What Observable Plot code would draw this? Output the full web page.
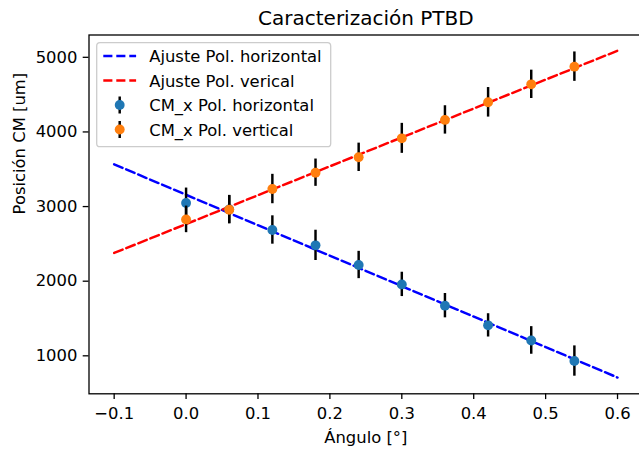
<!DOCTYPE html>
<html><head><meta charset="utf-8">
<script src="https://cdn.jsdelivr.net/npm/d3@7"></script>
<script src="https://cdn.jsdelivr.net/npm/@observablehq/plot@0.6"></script>
<style>html,body{margin:0;padding:0;background:#fff;overflow:hidden}</style>
</head><body><div id="chart"></div>
<script>
const titleText = "Caracterización PTBD";
const xLabel = "Ángulo [°]";
const yLabel = "Posición CM [um]";
const angles = [0, 0.06, 0.12, 0.18, 0.24, 0.30, 0.36, 0.42, 0.48, 0.54];
const posHorizontal = [3048, 2960, 2686, 2480, 2217, 1957, 1672, 1408, 1206, 930];
const errHorizontal = [200, 190, 190, 203, 183, 163, 163, 156, 185, 203];
const posVertical = [2828, 2958, 3235, 3454, 3660, 3914, 4161, 4397, 4638, 4875];
const errVertical = [178, 188, 197, 183, 190, 201, 190, 198, 190, 197];
const fitAngles = [-0.1, 0.6];
const fitHorizontal = [3566, 709];
const fitVertical = [2378, 5088];
const xTicks = [-0.1, 0, 0.1, 0.2, 0.3, 0.4, 0.5, 0.6];
const yTicks = [1000, 2000, 3000, 4000, 5000];
const legendLabels = ["Ajuste Pol. horizontal", "Ajuste Pol. verical", "CM_x Pol. horizontal", "CM_x Pol. vertical"];

const C0 = "#1f77b4", C1 = "#ff7f0e";
const FS = 16.4, LW = 2.46, DASH = "9.1,3.9";
const hData = angles.map((a, i) => ({x: a, y: posHorizontal[i], e: errHorizontal[i]}));
const vData = angles.map((a, i) => ({x: a, y: posVertical[i], e: errVertical[i]}));
const fitH = fitAngles.map((a, i) => ({x: a, y: fitHorizontal[i]}));
const fitV = fitAngles.map((a, i) => ({x: a, y: fitVertical[i]}));
const fmtX = d => (d < 0 ? "\u2212" : "") + Math.abs(d).toFixed(1);

const plot = Plot.plot({
  width: 639, height: 453,
  marginLeft: 88.5, marginRight: -3.2, marginTop: 34.5, marginBottom: 59.7,
  x: {domain: [-0.135, 0.635]},
  y: {domain: [491, 5299]},
  style: {fontFamily: "DejaVu Sans", fontSize: FS + "px", color: "black", background: "white", overflow: "hidden"},
  marks: [
    Plot.line(fitH, {x: "x", y: "y", stroke: "#0000ff", strokeWidth: LW, strokeDasharray: DASH}),
    Plot.line(fitV, {x: "x", y: "y", stroke: "#ff0000", strokeWidth: LW, strokeDasharray: DASH}),
    Plot.ruleX(hData, {x: "x", y1: d => d.y - d.e, y2: d => d.y + d.e, stroke: "black", strokeWidth: LW}),
    Plot.dot(hData, {x: "x", y: "y", r: 4.95, fill: C0}),
    Plot.ruleX(vData, {x: "x", y1: d => d.y - d.e, y2: d => d.y + d.e, stroke: "black", strokeWidth: LW}),
    Plot.dot(vData, {x: "x", y: "y", r: 4.95, fill: C1}),
    Plot.frame({stroke: "black", strokeWidth: 1.3}),
    Plot.axisX(xTicks, {tickSize: 5.8, tickPadding: 7.5, tickFormat: fmtX, label: null, strokeWidth: 1.3, fontSize: FS, fill: "black"}),
    Plot.axisY(yTicks, {tickSize: 5.8, tickPadding: 5.8, tickFormat: d => String(d), label: null, strokeWidth: 1.3, fontSize: FS, fill: "black"}),
    Plot.text([titleText], {text: d => d, frameAnchor: "top", lineAnchor: "middle", dy: -16.2, fontSize: 20, fill: "black"}),
    Plot.text([xLabel], {text: d => d, frameAnchor: "bottom", lineAnchor: "middle", dy: 44.4, fontSize: FS, fill: "black"}),
    Plot.text([yLabel], {text: d => d, frameAnchor: "left", lineAnchor: "middle", rotate: -90, dx: -69, fontSize: FS, fill: "black"})
  ]
});
document.getElementById("chart").appendChild(plot);

// Legend (matplotlib-style box)
const svg = d3.select(plot);
const lg = svg.append("g").attr("font-family", "DejaVu Sans").attr("font-size", FS).attr("text-anchor", "start");
lg.append("rect").attr("x", 96.7).attr("y", 42.7).attr("width", 234).attr("height", 104).attr("rx", 3.3)
  .attr("fill", "white").attr("fill-opacity", 0.8).attr("stroke", "#cccccc").attr("stroke-width", 1.3);
const rowY = [56, 80.5, 105, 129.5];
const kinds = [
  {type: "line", color: "#0000ff"},
  {type: "line", color: "#ff0000"},
  {type: "dot", color: C0},
  {type: "dot", color: C1}
];
kinds.forEach((k, i) => {
  const y = rowY[i];
  if (k.type === "line") {
    lg.append("line").attr("x1", 103.3).attr("x2", 136.1).attr("y1", y).attr("y2", y)
      .attr("stroke", k.color).attr("stroke-width", LW).attr("stroke-dasharray", DASH);
  } else {
    lg.append("line").attr("x1", 119.7).attr("x2", 119.7).attr("y1", y - 8.5).attr("y2", y + 8.5)
      .attr("stroke", "black").attr("stroke-width", LW);
    lg.append("circle").attr("cx", 119.7).attr("cy", y).attr("r", 4.95).attr("fill", k.color);
  }
  lg.append("text").attr("x", 149.2).attr("y", y + 6).attr("fill", "black").attr("text-anchor", "start").text(legendLabels[i]);
});
</script>
</body></html>
